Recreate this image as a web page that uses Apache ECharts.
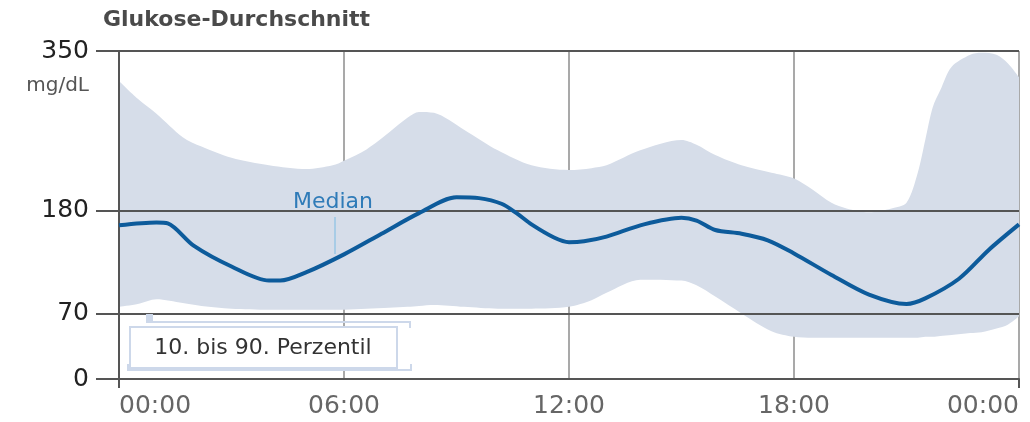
<!DOCTYPE html>
<html>
<head>
<meta charset="utf-8">
<title>Glukose-Durchschnitt</title>
<script src="https://cdn.jsdelivr.net/npm/echarts@6/dist/echarts.min.js"></script>
<style>
  html, body { margin: 0; padding: 0; background: #fff; }
  #chart { width: 1030px; height: 422px; }
</style>
</head>
<body>
<div id="chart"></div>
<script>
  // Achsen
  const yTicks = [0, 70, 180, 350];
  const hourTicks = [0, 6, 12, 18, 24];

  // 10. bis 90. Perzentil (mg/dL)
  const bandHours = [0, 0.5, 1, 1.7, 2.2, 3, 4, 5, 5.7, 6, 6.6, 7.2, 7.7, 8, 8.4, 9.2, 10.1, 11, 12, 12.6,
    13, 13.9, 15, 15.4, 15.9, 16.6, 17.4, 18, 18.5, 19, 19.4, 20, 20.6, 21, 21.3, 21.5, 21.7, 21.9, 22.2, 22.7,
    23, 23.4, 23.7, 24];
  const p90 = [318, 299, 283, 258, 248, 236, 228, 224, 228, 233, 245, 263, 279, 285, 284, 266, 244, 228, 223, 225,
    228, 244, 255, 250, 239, 228, 220, 214, 202, 188, 182, 178, 182, 188, 220, 255, 290, 308, 333, 346,
    348, 346, 337, 322];
  const p10 = [77, 80, 85, 81, 78, 75, 74, 74, 74, 74, 75, 76, 77, 78, 79, 77, 75, 75, 77, 84,
    92, 106, 105, 100, 88, 70, 51, 45, 44, 44, 44, 44, 44, 44, 44, 45, 45, 46, 47, 49,
    50, 54, 58, 67];

  // Median
  const medianHours = [0, 1, 1.3, 2, 3, 4, 4.3, 5, 6, 7, 8, 9, 9.6, 10.2, 10.6, 11, 11.6, 12, 12.4, 13,
    14, 15, 15.4, 15.9, 16.6, 17.3, 18, 19, 20, 21, 21.5, 22.4, 23.2, 24];
  const median = [164, 167, 166, 142, 120, 105, 105, 114, 133, 155, 177, 194, 193, 187, 177, 165, 151, 146, 147, 152,
    165, 172, 169, 159, 155, 148, 134, 111, 90, 80, 86, 107, 138, 165];

  const font = 'DejaVu Sans';
  const dark = '#555';

  let chart = echarts.init(document.getElementById('chart'));

  chart.setOption({
    animation: false,
    grid: { left: 119, right: 11, top: 51, bottom: 43, containLabel: false },
    xAxis: [
      {
        type: 'value', min: 0, max: 24, interval: 6,
        axisLine: { show: false },
        axisTick: { show: false },
        axisLabel: {
          color: '#666', fontSize: 25, fontFamily: font, margin: 15,
          alignMinLabel: 'left', alignMaxLabel: 'right',
          formatter: function (v) {
            let h = v % 24;
            return (h < 10 ? '0' : '') + h + ':00';
          }
        },
        splitLine: { show: true, lineStyle: { color: '#8c8c8c', width: 1.5 } }
      },
      {
        type: 'value', min: 0, max: 24, position: 'bottom', z: 3,
        axisLine: { show: true, lineStyle: { color: dark, width: 2 } },
        axisTick: { show: true, customValues: [0, 24], length: 9, lineStyle: { color: dark, width: 2 } },
        axisLabel: { show: false },
        splitLine: { show: false }
      }
    ],
    yAxis: [
      {
        type: 'value', min: 0, max: 350, z: 3,
        axisLine: { show: true, lineStyle: { color: dark, width: 2 } },
        axisTick: { show: true, customValues: yTicks, length: 23, lineStyle: { color: dark, width: 2 } },
        axisLabel: { customValues: yTicks, color: '#222', fontSize: 25, fontFamily: font, margin: 30 },
        splitLine: { show: true, lineStyle: { color: dark, width: 2 } }
      },
      {
        type: 'value', min: 0, max: 350, position: 'right', z: 3,
        axisLine: { show: true, lineStyle: { color: dark, width: 2 } },
        axisTick: { show: false },
        axisLabel: { show: false },
        splitLine: { show: false }
      }
    ],
    series: [
      // Wert zuerst, damit auf der y-Dimension gestapelt wird
      {
        name: 'p10', type: 'line', stack: 'band', z: 1,
        symbol: 'none', smooth: 0.3,
        encode: { x: 1, y: 0 },
        lineStyle: { opacity: 0 },
        data: bandHours.map((h, i) => [p10[i], h])
      },
      {
        name: '10. bis 90. Perzentil', type: 'line', stack: 'band', z: 1,
        symbol: 'none', smooth: 0.3,
        encode: { x: 1, y: 0 },
        lineStyle: { opacity: 0 },
        areaStyle: { color: '#d6dde9', opacity: 1 },
        data: bandHours.map((h, i) => [p90[i] - p10[i], h])
      },
      {
        name: 'Median', type: 'line', z: 5,
        symbol: 'none', smooth: 0.3,
        lineStyle: { color: '#0d5b9b', width: 4 },
        data: medianHours.map((h, i) => [h, median[i]])
      }
    ],
    graphic: [
      {
        type: 'text', left: 103, top: 9, z: 10,
        style: { text: 'Glukose-Durchschnitt', fill: '#4a4a4a', font: 'bold 22px "DejaVu Sans"' }
      },
      {
        type: 'text', x: 89, y: 86, z: 10,
        style: { text: 'mg/dL', fill: '#555', font: '20px "DejaVu Sans"', align: 'right', verticalAlign: 'middle' }
      },
      {
        type: 'text', x: 293, y: 213, z: 2,
        style: { text: 'Median', fill: '#2f7bb8', font: '22px "DejaVu Sans"', verticalAlign: 'bottom' }
      },
      {
        type: 'line', z: 4,
        shape: { x1: 335, y1: 217, x2: 335, y2: 254 },
        style: { stroke: '#a8cce6', lineWidth: 2 }
      },
      // Legende
      {
        type: 'rect', z: 6,
        shape: { x: 146, y: 314, width: 7, height: 9 },
        style: { fill: '#cdd8ea' }
      },
      {
        type: 'polyline', z: 6,
        shape: { points: [[147, 322], [410, 322], [410, 328]] },
        style: { stroke: '#cdd8ea', lineWidth: 2, fill: null }
      },
      {
        type: 'polyline', z: 6,
        shape: { points: [[128, 364], [128, 370], [411, 370], [411, 364]] },
        style: { stroke: '#cdd8ea', lineWidth: 2, fill: null }
      },
      {
        type: 'rect', z: 6,
        shape: { x: 130, y: 327, width: 267, height: 41 },
        style: { fill: '#fff', stroke: '#cdd8ea', lineWidth: 2 }
      },
      {
        type: 'text', x: 263, y: 348, z: 7,
        style: { text: '10. bis 90. Perzentil', fill: '#333', font: '22px "DejaVu Sans"', align: 'center', verticalAlign: 'middle' }
      }
    ]
  });
</script>
</body>
</html>
